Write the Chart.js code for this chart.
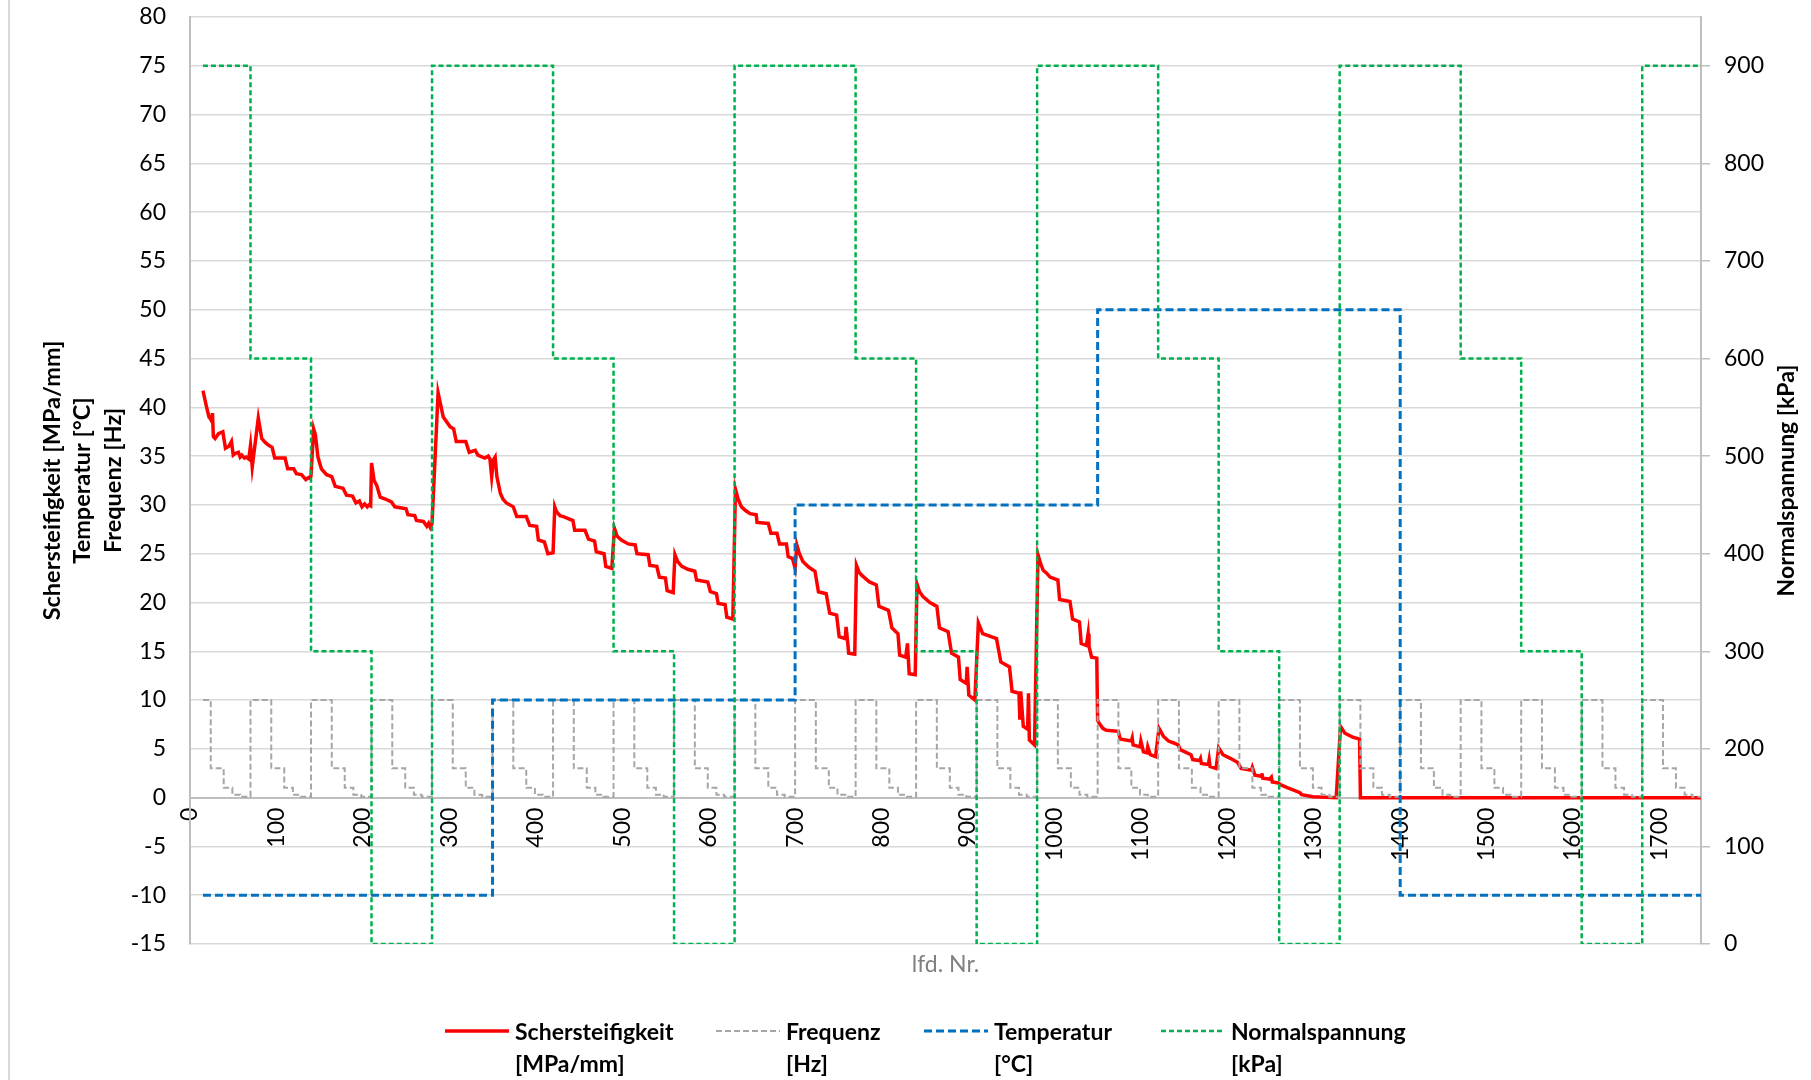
<!DOCTYPE html>
<html>
<head>
<meta charset="utf-8">
<script src="https://cdn.jsdelivr.net/npm/chart.js@4.4.1/dist/chart.umd.min.js"></script>
<style>
body { margin: 0; background: #fff; font-family: Lato, sans-serif; }
#wrap { position: relative; width: 1811px; height: 1080px; overflow: hidden; }
#edge { position: absolute; left: 8px; top: 0; width: 2px; height: 1080px; background: #d9d9d9; }
.item { position: absolute; top: 1015px; display: flex; align-items: flex-start; }
.item span { font-weight: 700; font-size: 23px; line-height: 32px; color: #000; margin-left: 6px; white-space: nowrap; }
</style>
</head>
<body>
<div id="wrap">
  <canvas id="chart" width="1811" height="1080"></canvas>
  <div id="edge"></div>
  <div id="legend"></div>
</div>
<script>
'use strict';

const firstNr = 15;
const lastNr = 1748;

// Normalspannung [kPa] - Stufen (lfd. Nr., Wert)
const normalspannung = [
    [15, 900], [70, 600], [140, 300], [210, 0], [280, 900], [420, 600], [490, 300], [560, 0],
    [630, 900], [770, 600], [840, 300], [910, 0], [980, 900], [1120, 600], [1190, 300], [1260, 0],
    [1330, 900], [1470, 600], [1540, 300], [1610, 0], [1680, 900], [1748, 900]
];

// Temperatur [°C] - Stufen
const temperatur = [[15, -10], [350, 10], [700, 30], [1050, 50], [1400, -10], [1748, -10]];

// Frequenz [Hz] - jede Frequenzreihe gleich aufgebaut
const sweepStarts = [0, 70, 140, 210, 280, 350, 420, 490, 560, 630, 700, 770, 840, 910, 980,
    1050, 1120, 1190, 1260, 1330, 1400, 1470, 1540, 1610, 1680];
const sweepLevels = [10, 3, 1, 0.3, 0.1];
const sweepOffsets = [0, 24, 39, 49, 58];

// Schersteifigkeit [MPa/mm]
const schersteifigkeit = [
    [15, 41.7], [19, 40.1], [22, 39.0], [23, 38.9], [25, 38.6], [26, 39.4], [27, 37.0], [29, 36.8],
    [33, 37.3], [38, 37.5], [41, 35.8], [45, 36.0], [48, 36.5], [50, 35.1], [53, 35.3], [56, 35.4],
    [58, 34.9], [60, 35.1], [63, 34.8], [65, 34.9], [68, 34.7], [70, 36.1], [72, 33.9], [79, 38.9],
    [83, 36.8], [87, 36.4], [91, 36.1], [95, 35.9], [98, 34.8], [110, 34.8], [113, 33.7], [120, 33.7],
    [123, 33.2], [129, 33.1], [132, 32.8], [134, 32.6], [137, 32.8], [139, 32.7], [140, 33.0],
    [143, 37.8], [145, 37.2], [148, 34.9], [152, 33.7], [158, 33.1], [164, 32.9], [168, 31.9],
    [177, 31.7], [181, 31.0], [188, 30.9], [192, 30.2], [196, 30.4], [199, 29.8], [202, 30.1],
    [205, 29.8], [207, 30.0], [209, 29.9], [210, 34.3], [213, 32.5], [216, 32.0], [220, 30.8],
    [226, 30.6], [233, 30.3], [237, 29.8], [250, 29.6], [252, 29.0], [260, 28.9], [262, 28.4],
    [270, 28.3], [274, 27.8], [276, 28.1], [278, 27.7], [280, 28.1], [287, 41.5], [293, 39.0],
    [301, 38.0], [305, 37.8], [308, 36.5], [319, 36.5], [323, 35.4], [330, 35.6], [333, 35.1],
    [341, 34.8], [345, 35.0], [347, 34.7], [349, 32.9], [351, 34.6], [353, 34.9], [355, 32.9],
    [359, 31.2], [362, 30.6], [366, 30.2], [374, 29.8], [378, 28.8], [389, 28.8], [393, 27.9],
    [401, 27.8], [403, 26.4], [410, 26.2], [414, 25.0], [420, 25.1], [422, 29.8], [424, 29.3],
    [428, 28.9], [432, 28.8], [443, 28.4], [445, 27.4], [457, 27.4], [461, 26.5], [468, 26.3],
    [470, 25.2], [479, 25.0], [481, 23.7], [488, 23.5], [491, 27.6], [494, 26.8], [499, 26.4],
    [507, 26.0], [515, 25.9], [517, 25.0], [530, 24.9], [532, 23.8], [540, 23.7], [543, 22.6],
    [550, 22.5], [552, 21.2], [559, 21.0], [561, 24.9], [564, 24.2], [569, 23.7], [576, 23.4],
    [584, 23.2], [586, 22.3], [599, 22.1], [602, 21.1], [609, 20.9], [611, 19.9], [619, 19.8],
    [621, 18.5], [628, 18.3], [631, 31.6], [634, 30.6], [638, 29.8], [643, 29.4], [648, 29.1],
    [655, 29.0], [656, 28.2], [669, 28.1], [672, 27.1], [679, 27.1], [682, 26.0], [690, 26.0],
    [692, 24.7], [697, 24.5], [700, 23.5], [702, 25.9], [705, 25.0], [709, 24.2], [716, 23.6],
    [723, 23.2], [727, 21.1], [736, 20.9], [740, 18.9], [748, 18.7], [751, 16.5], [758, 16.3],
    [759, 17.5], [761, 15.8], [762, 14.8], [769, 14.7], [771, 23.8], [774, 23.1], [777, 22.8],
    [786, 22.1], [794, 21.8], [797, 19.6], [808, 19.2], [812, 17.4], [819, 16.8], [821, 14.6],
    [828, 14.4], [830, 15.8], [832, 12.7], [839, 12.6], [841, 21.9], [844, 21.1], [848, 20.6],
    [856, 20.0], [864, 19.6], [867, 17.4], [877, 17.0], [881, 14.8], [889, 14.4], [891, 12.1],
    [898, 11.7], [899, 13.4], [901, 10.5], [908, 10.0], [912, 17.9], [917, 16.8], [933, 16.3],
    [938, 13.9], [948, 13.4], [951, 10.9], [959, 10.7], [960, 8.0], [961, 10.9], [964, 7.3],
    [969, 7.0], [970, 10.7], [971, 5.9], [977, 5.4], [981, 24.9], [984, 24.0], [987, 23.3],
    [991, 23.0], [995, 22.6], [1004, 22.3], [1006, 20.3], [1018, 20.1], [1021, 18.3], [1029, 18.0],
    [1031, 15.8], [1037, 15.6], [1039, 16.8], [1040, 15.5], [1043, 14.4], [1049, 14.3], [1050, 7.9],
    [1052, 7.6], [1056, 7.1], [1060, 6.9], [1074, 6.8], [1076, 6.0], [1089, 5.8], [1090, 6.1],
    [1091, 5.4], [1099, 5.2], [1100, 5.8], [1103, 4.7], [1107, 4.6], [1108, 5.2], [1111, 4.4],
    [1117, 4.2], [1121, 7.1], [1126, 6.3], [1132, 5.8], [1138, 5.6], [1143, 5.4], [1146, 4.9],
    [1158, 4.4], [1160, 3.9], [1168, 3.8], [1169, 4.0], [1170, 3.5], [1178, 3.4], [1179, 3.9],
    [1180, 3.2], [1187, 3.0], [1190, 5.1], [1195, 4.4], [1204, 4.0], [1212, 3.6], [1216, 3.0],
    [1228, 2.8], [1229, 3.1], [1232, 2.3], [1239, 2.2], [1240, 2.5], [1241, 2.0], [1249, 1.9],
    [1251, 2.1], [1252, 1.6], [1259, 1.5], [1262, 1.3], [1270, 1.0], [1276, 0.8], [1284, 0.5],
    [1286, 0.3], [1299, 0.1], [1314, 0.05], [1326, 0.0], [1331, 7.3], [1336, 6.6], [1345, 6.2],
    [1353, 6.0], [1354, 0.0], [1748, 0.0]
];

const legendLeft = [445, 716, 924, 1161];
const rightTitleText = 'Normalspannung [kPa]';

function toPoints(pairs) {
    return pairs.map(p => ({x: p[0], y: p[1]}));
}

function frequencyPoints() { // Frequenzreihen als Stufenpunkte
    let points = [{x: firstNr, y: sweepLevels[0]}];
    sweepStarts.forEach(start => {
        sweepLevels.forEach((level, i) => {
            let x = start + sweepOffsets[i];
            if (x > firstNr && x < lastNr) {
                points.push({x: x, y: level});
            }
        });
    });
    points.push({x: lastNr, y: points[points.length - 1].y});
    return points;
}

function noPadding(scale, width) { // feste Achsbreite, kein Extra-Rand oben/unten
    scale.width = width;
    scale.paddingTop = 0;
    scale.paddingBottom = 0;
}

// rechter Achstitel liest von unten nach oben (wie links)
const rightTitle = {
    id: 'rightTitle',
    afterDraw(chart) {
        const {ctx, chartArea, scales} = chart;
        ctx.save();
        ctx.translate(scales.y2.right - 14, (chartArea.top + chartArea.bottom) / 2);
        ctx.rotate(-Math.PI / 2);
        ctx.font = 'bold 23px Lato';
        ctx.fillStyle = '#000';
        ctx.textAlign = 'center';
        ctx.textBaseline = 'middle';
        ctx.fillText(rightTitleText, 0, 0);
        ctx.restore();
    }
};

const tickFont = {family: 'Lato', size: 23};
const titleFont = {family: 'Lato', size: 23.5, weight: 'bold', lineHeight: 1.3};

const datasets = [
    {
        label: 'Schersteifigkeit [MPa/mm]', data: toPoints(schersteifigkeit),
        borderColor: '#ff0000', borderWidth: 3.5, yAxisID: 'y', order: 4,
    },
    {
        label: 'Frequenz [Hz]', data: frequencyPoints(), stepped: 'before',
        borderColor: '#a6a6a6', borderWidth: 2, borderDash: [6, 3], yAxisID: 'y', order: 3,
    },
    {
        label: 'Temperatur [°C]', data: toPoints(temperatur), stepped: 'before',
        borderColor: '#0070c0', borderWidth: 3, borderDash: [8, 4], yAxisID: 'y', order: 2,
    },
    {
        label: rightTitleText, data: toPoints(normalspannung), stepped: 'before',
        borderColor: '#00b050', borderWidth: 2.5, borderDash: [5, 3], yAxisID: 'y2', order: 1,
    },
];

new Chart(document.getElementById('chart'), {
    type: 'line',
    data: {datasets: datasets},
    plugins: [rightTitle],
    options: {
        responsive: false,
        animation: false,
        elements: {point: {radius: 0}, line: {tension: 0, fill: false}},
        layout: {padding: {left: 37, right: 10, top: 17, bottom: 102}},
        plugins: {legend: {display: false}, tooltip: {enabled: false}},
        scales: {
            x: {
                type: 'linear', position: {y: 0}, min: 0, max: lastNr,
                grid: {display: false, drawTicks: false},
                border: {color: '#bfbfbf', width: 2},
                ticks: {
                    stepSize: 100, includeBounds: false, autoSkip: false,
                    minRotation: 90, maxRotation: 90, padding: 10,
                    font: tickFont, color: '#000',
                    callback: value => String(value),
                },
            },
            x2: {
                type: 'linear', position: 'bottom', min: 0, max: lastNr,
                grid: {display: false, drawTicks: false},
                border: {display: false},
                ticks: {display: false},
                title: {display: true, text: 'lfd. Nr.', color: '#808080', font: {family: 'Lato', size: 23}, padding: 0},
                afterFit: scale => { scale.height = 34; },
            },
            y: {
                position: 'left', min: -15, max: 80,
                grid: {color: '#d9d9d9', lineWidth: 1.5, drawTicks: false},
                border: {color: '#bfbfbf', width: 2},
                ticks: {stepSize: 5, padding: 24, font: tickFont, color: '#000'},
                title: {
                    display: true, padding: 0, color: '#000', font: titleFont,
                    text: ['Schersteifigkeit [MPa/mm]', 'Temperatur [°C]', 'Frequenz [Hz]'],
                },
                afterFit: scale => noPadding(scale, 153),
            },
            y2: {
                position: 'right', min: 0, max: 950,
                grid: {drawOnChartArea: false, color: '#bfbfbf', lineWidth: 1.5, tickLength: 9},
                border: {color: '#bfbfbf', width: 2},
                ticks: {stepSize: 100, includeBounds: false, padding: 14, font: tickFont, color: '#000'},
                title: {display: false},
                afterFit: scale => noPadding(scale, 100),
            },
        },
    },
});

// Legende unten, zweizeilig wie im Original
const legend = document.getElementById('legend');
datasets.forEach((ds, i) => {
    let item = document.createElement('div');
    item.className = 'item';
    item.style.left = legendLeft[i] + 'px';
    let dash = ds.borderDash ? ds.borderDash.join(' ') : 'none';
    let cut = ds.label.indexOf(' [');
    item.innerHTML =
        `<svg width="64" height="32"><line x1="0" y1="16" x2="64" y2="16" stroke="${ds.borderColor}" ` +
        `stroke-width="${ds.borderWidth}" stroke-dasharray="${dash}"/></svg>` +
        `<span>${ds.label.slice(0, cut)}<br>${ds.label.slice(cut + 1)}</span>`;
    legend.appendChild(item);
});
</script>
</body>
</html>
